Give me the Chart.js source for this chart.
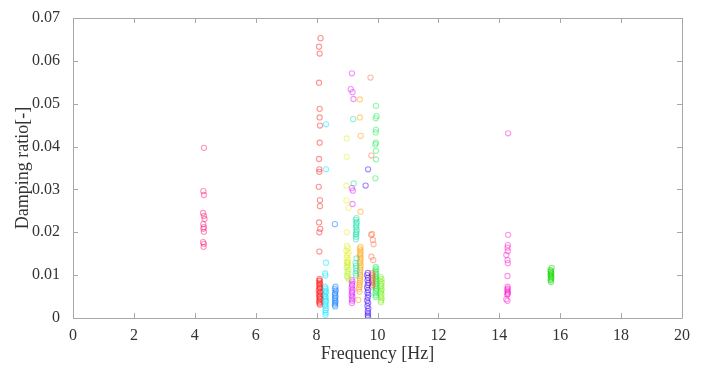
<!DOCTYPE html>
<html>
<head>
<meta charset="utf-8">
<title>Damping ratio vs frequency</title>
<script src="https://cdn.jsdelivr.net/npm/chart.js@4/dist/chart.umd.min.js"></script>
<style>
  html, body { margin: 0; padding: 0; background: #ffffff; }
  #wrap { width: 701px; height: 365px; }
</style>
</head>
<body>
<div id="wrap"><canvas id="c" width="701" height="365"></canvas></div>
<script>
// Identified modes: frequency [Hz] and damping ratio [-] per mode
const xTicks = [0, 2, 4, 6, 8, 10, 12, 14, 16, 18, 20];
const yTicks = [0, 0.01, 0.02, 0.03, 0.04, 0.05, 0.06, 0.07];

const mode1Freq = [4.30, 4.28, 4.30, 4.27, 4.30, 4.32, 4.28, 4.30, 4.28, 4.30, 4.27, 4.30, 4.29];
const mode1Damp = [0.0397, 0.0296, 0.0287, 0.0245, 0.0238, 0.0231, 0.0219, 0.0212, 0.0208, 0.0201, 0.0177, 0.0173, 0.0166];

const mode2Freq = [8.13, 8.08, 8.10, 8.08, 8.10, 8.10, 8.11, 8.10, 8.08, 8.09, 8.09, 8.07, 8.11, 8.11, 8.08, 8.12, 8.09, 8.09,
                   8.10, 8.08, 8.11, 8.09, 8.12, 8.08, 8.10, 8.11, 8.09, 8.07, 8.12, 8.10, 8.08, 8.11, 8.09, 8.10, 8.12, 8.08, 8.10, 8.09, 8.11];
const mode2Damp = [0.0653, 0.0633, 0.0617, 0.0549, 0.0488, 0.0468, 0.0449, 0.0409, 0.0371, 0.0347, 0.0341, 0.0306, 0.0275, 0.0261, 0.0223, 0.0208, 0.0200, 0.0155,
                   0.0091, 0.0088, 0.0086, 0.0082, 0.0079, 0.0077, 0.0073, 0.0070, 0.0068, 0.0064, 0.0061, 0.0059, 0.0055, 0.0052, 0.0049, 0.0046, 0.0044, 0.0040, 0.0037, 0.0034, 0.0031];

const mode3Freq = [8.31, 8.31, 8.31, 8.28, 8.29, 8.27, 8.30, 8.28, 8.31, 8.29, 8.27, 8.30, 8.28, 8.31, 8.29, 8.30, 8.28, 8.31, 8.29, 8.30, 8.29];
const mode3Damp = [0.0452, 0.0347, 0.0129, 0.0104, 0.0099, 0.0073, 0.0069, 0.0064, 0.0061, 0.0057, 0.0052, 0.0049, 0.0045, 0.0041, 0.0037, 0.0032, 0.0028, 0.0023, 0.0018, 0.0012, 0.0007];

const mode4Freq = [8.60, 8.62, 8.60, 8.63, 8.61, 8.60, 8.62, 8.61, 8.60, 8.62, 8.61, 8.60, 8.61];
const mode4Damp = [0.0219, 0.0073, 0.0068, 0.0064, 0.0059, 0.0055, 0.0051, 0.0047, 0.0043, 0.0039, 0.0035, 0.0031, 0.0027];

const mode5Freq = [8.99, 8.99, 8.98, 8.98, 9.05, 8.99, 9.00, 9.03, 8.98, 9.05, 9.01, 8.99, 9.04, 9.00, 9.02];
const mode5Damp = [0.0419, 0.0376, 0.0309, 0.0274, 0.0257, 0.0200, 0.0168, 0.0163, 0.0157, 0.0152, 0.0147, 0.0141, 0.0136, 0.0131, 0.0127];

const mode6Freq = [9.02, 8.99, 9.05, 9.01, 9.04, 9.00, 9.03, 9.06, 9.02];
const mode6Damp = [0.0122, 0.0118, 0.0113, 0.0108, 0.0103, 0.0098, 0.0094, 0.0089, 0.0130];

const mode7Freq = [9.16, 9.12, 9.18, 9.21, 9.16, 9.19, 9.18, 9.15, 9.18, 9.16, 9.17, 9.15, 9.18, 9.16, 9.17, 9.15, 9.18, 9.16, 9.17, 9.16];
const mode7Damp = [0.0571, 0.0534, 0.0527, 0.0511, 0.0303, 0.0297, 0.0266, 0.0089, 0.0085, 0.0080, 0.0076, 0.0071, 0.0066, 0.0062, 0.0058, 0.0053, 0.0049, 0.0044, 0.0040, 0.0035];

const mode8Freq = [9.20, 9.22, 9.31, 9.29, 9.32, 9.30, 9.31, 9.29, 9.32, 9.30, 9.31, 9.29, 9.30, 9.29, 9.31, 9.28, 9.30, 9.29, 9.31, 9.28, 9.30];
const mode8Damp = [0.0464, 0.0314, 0.0233, 0.0229, 0.0224, 0.0220, 0.0215, 0.0211, 0.0206, 0.0201, 0.0197, 0.0194, 0.0189, 0.0184, 0.0139, 0.0128, 0.0122, 0.0116, 0.0110, 0.0104, 0.0099];

const mode9Freq = [9.42, 9.42, 9.45, 9.44, 9.44, 9.42, 9.45, 9.43, 9.44, 9.42, 9.45, 9.43, 9.44, 9.42, 9.45, 9.43, 9.44, 9.42,
                   9.43, 9.44, 9.42, 9.43, 9.41, 9.42, 9.40, 9.39, 9.41, 9.37];
const mode9Damp = [0.0510, 0.0468, 0.0425, 0.0248, 0.0166, 0.0162, 0.0158, 0.0153, 0.0149, 0.0145, 0.0140, 0.0136, 0.0131, 0.0127, 0.0122, 0.0117, 0.0112, 0.0107,
                   0.0102, 0.0097, 0.0092, 0.0087, 0.0082, 0.0077, 0.0072, 0.0067, 0.0061, 0.0042];

const mode10Freq = [9.69, 9.61, 9.68, 9.66, 9.69, 9.67, 9.70, 9.68, 9.66, 9.69, 9.67, 9.70, 9.68, 9.66, 9.69, 9.67, 9.70, 9.68, 9.69, 9.68, 9.69];
const mode10Damp = [0.0347, 0.0309, 0.0105, 0.0100, 0.0094, 0.0088, 0.0082, 0.0077, 0.0071, 0.0065, 0.0059, 0.0054, 0.0048, 0.0041, 0.0035, 0.0028, 0.0022, 0.0016, 0.0011, 0.0006, 0.0002];

const mode11Freq = [9.77, 9.80, 9.82, 9.79, 9.85, 9.87, 9.80, 9.86, 9.83, 9.84, 9.82, 9.83, 9.84, 9.82, 9.83, 9.84, 9.82];
const mode11Damp = [0.0561, 0.0379, 0.0196, 0.0194, 0.0182, 0.0172, 0.0143, 0.0135, 0.0105, 0.0101, 0.0097, 0.0093, 0.0089, 0.0085, 0.0081, 0.0077, 0.0073];

const mode12Freq = [9.95, 9.97, 9.94, 9.95, 9.94, 9.95, 9.93, 9.95, 9.95, 9.93, 9.94, 9.96, 9.93, 9.95, 9.94, 9.96, 9.93, 9.95,
                    9.94, 9.96, 9.93, 9.95, 9.94, 9.96, 9.95, 9.93, 9.95, 9.94];
const mode12Damp = [0.0495, 0.0471, 0.0466, 0.0439, 0.0433, 0.0409, 0.0405, 0.0390, 0.0370, 0.0326, 0.0119, 0.0115, 0.0111, 0.0107, 0.0103, 0.0099, 0.0095, 0.0091,
                    0.0087, 0.0083, 0.0079, 0.0075, 0.0071, 0.0067, 0.0063, 0.0058, 0.0053, 0.0049];

const mode13Freq = [10.10, 10.13, 10.09, 10.14, 10.11, 10.13, 10.10, 10.14, 10.12, 10.10, 10.13, 10.11, 10.14, 10.12, 10.11];
const mode13Damp = [0.0096, 0.0091, 0.0087, 0.0083, 0.0079, 0.0075, 0.0071, 0.0067, 0.0063, 0.0059, 0.0055, 0.0050, 0.0046, 0.0041, 0.0037];

const mode14Freq = [14.29, 14.29, 14.28, 14.27, 14.28, 14.23, 14.27, 14.28, 14.27, 14.27, 14.28, 14.26, 14.28, 14.27, 14.28, 14.26, 14.23, 14.27];
const mode14Damp = [0.0431, 0.0194, 0.0170, 0.0164, 0.0156, 0.0147, 0.0135, 0.0128, 0.0098, 0.0073, 0.0069, 0.0066, 0.0062, 0.0059, 0.0056, 0.0054, 0.0044, 0.0040];

const mode15Freq = [15.72, 15.68, 15.70, 15.69, 15.71, 15.68, 15.70, 15.69, 15.71, 15.70, 15.68, 15.70];
const mode15Damp = [0.0117, 0.0112, 0.0109, 0.0107, 0.0104, 0.0102, 0.0099, 0.0097, 0.0094, 0.0091, 0.0088, 0.0084];

const modeColors = [
  'rgba(255, 0, 110, 0.42)',
  'rgba(255, 0, 0, 0.42)',
  'rgba(0, 230, 255, 0.48)',
  'rgba(0, 120, 255, 0.48)',
  'rgba(225, 235, 0, 0.42)',
  'rgba(170, 240, 0, 0.42)',
  'rgba(220, 0, 255, 0.42)',
  'rgba(0, 220, 160, 0.42)',
  'rgba(255, 160, 0, 0.48)',
  'rgba(60, 0, 255, 0.48)',
  'rgba(255, 90, 40, 0.42)',
  'rgba(0, 235, 60, 0.42)',
  'rgba(110, 235, 0, 0.42)',
  'rgba(255, 0, 200, 0.42)',
  'rgba(20, 215, 0, 0.5)'
];

const modes = [
  [mode1Freq, mode1Damp], [mode2Freq, mode2Damp], [mode3Freq, mode3Damp], [mode4Freq, mode4Damp],
  [mode5Freq, mode5Damp], [mode6Freq, mode6Damp], [mode7Freq, mode7Damp], [mode8Freq, mode8Damp],
  [mode9Freq, mode9Damp], [mode10Freq, mode10Damp], [mode11Freq, mode11Damp], [mode12Freq, mode12Damp],
  [mode13Freq, mode13Damp], [mode14Freq, mode14Damp], [mode15Freq, mode15Damp]
];

const datasets = modes.map(([fx, dy], i) => ({
  label: 'Mode ' + (i + 1),
  data: fx.map((f, k) => ({ x: f, y: dy[k] })),
  borderColor: modeColors[i],
  backgroundColor: 'rgba(0,0,0,0)',
  pointRadius: 2.6,
  pointBorderWidth: 1.1,
  pointHoverRadius: 2.6,
  showLine: false
}));

const FONT = "'Liberation Serif', 'DejaVu Serif', serif";
const AXIS_COLOR = '#a8a8a8';
const TEXT_COLOR = '#333333';

// Boxed axes with inward tick marks on all four sides
const boxAxes = {
  id: 'boxAxes',
  afterDatasetsDraw(chart) {
    const { ctx, chartArea: a, scales } = chart;
    const len = 5;
    ctx.save();
    ctx.strokeStyle = AXIS_COLOR;
    ctx.lineWidth = 1;
    ctx.beginPath();
    ctx.rect(Math.round(a.left) + 0.5, Math.round(a.top) + 0.5,
             Math.round(a.right - a.left), Math.round(a.bottom - a.top));
    scales.x.ticks.forEach(t => {
      const px = Math.round(scales.x.getPixelForValue(t.value)) + 0.5;
      ctx.moveTo(px, a.bottom); ctx.lineTo(px, a.bottom - len);
      ctx.moveTo(px, a.top); ctx.lineTo(px, a.top + len);
    });
    scales.y.ticks.forEach(t => {
      const py = Math.round(scales.y.getPixelForValue(t.value)) + 0.5;
      ctx.moveTo(a.left, py); ctx.lineTo(a.left + len, py);
      ctx.moveTo(a.right, py); ctx.lineTo(a.right - len, py);
    });
    ctx.stroke();
    ctx.restore();
  }
};

new Chart(document.getElementById('c'), {
  type: 'scatter',
  data: { datasets },
  plugins: [boxAxes],
  options: {
    responsive: false,
    animation: false,
    layout: { padding: { top: 18, right: 19, left: 0, bottom: 0 } },
    plugins: { legend: { display: false }, tooltip: { enabled: false } },
    scales: {
      x: {
        type: 'linear',
        min: 0, max: 20,
        afterFit(s) { s.height = 47; },
        afterBuildTicks(s) { s.ticks = xTicks.map(v => ({ value: v })); },
        grid: { display: false },
        border: { display: false },
        ticks: {
          padding: 0,
          color: TEXT_COLOR,
          font: { family: FONT, size: 16 },
          maxRotation: 0,
          callback: v => String(v)
        },
        title: {
          display: true,
          text: 'Frequency [Hz]',
          color: TEXT_COLOR,
          font: { family: FONT, size: 18 },
          padding: { top: 0, bottom: 0 }
        }
      },
      y: {
        type: 'linear',
        min: 0, max: 0.07,
        afterFit(s) { s.width = 73; },
        afterBuildTicks(s) { s.ticks = yTicks.map(v => ({ value: v })); },
        grid: { display: false },
        border: { display: false },
        ticks: {
          padding: 5,
          color: TEXT_COLOR,
          font: { family: FONT, size: 16 },
          callback: v => (v === 0 ? '0' : v.toFixed(2))
        },
        title: {
          display: true,
          text: 'Damping ratio[-]',
          color: TEXT_COLOR,
          font: { family: FONT, size: 18 },
          padding: { top: 12, bottom: 0 }
        }
      }
    }
  }
});
</script>
</body>
</html>
